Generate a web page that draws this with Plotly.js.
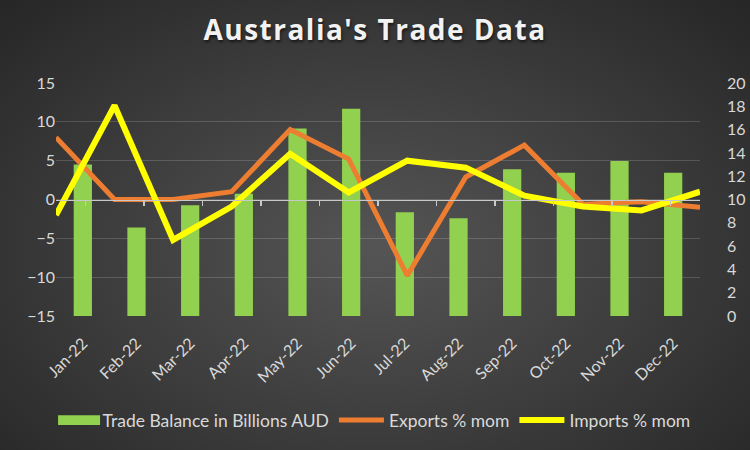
<!DOCTYPE html>
<html>
<head>
<meta charset="utf-8">
<script src="https://cdn.plot.ly/plotly-3.0.1.min.js"></script>
<style>
html,body{margin:0;padding:0;}
#chart{width:750px;height:450px;background:radial-gradient(ellipse at 50% 55%, #555555 0%, #404040 45%, #262626 100%);}
#chart .gtitle{letter-spacing:1.5px;}
</style>
</head>
<body>
<div id="chart"></div>
<script>
const months = ["Jan-22","Feb-22","Mar-22","Apr-22","May-22","Jun-22","Jul-22","Aug-22","Sep-22","Oct-22","Nov-22","Dec-22"];
const tradeBalance = [13.0, 7.6, 9.5, 10.5, 16.1, 17.8, 8.9, 8.4, 12.6, 12.3, 13.3, 12.3];
const exportsMom = [8.0, 0.0, 0.0, 1.0, 9.0, 5.2, -9.8, 2.9, 7.0, -0.6, -0.3, -1.0];
const importsMom = [-2.0, 12.1, -5.2, -0.9, 5.9, 0.9, 5.0, 4.1, 0.5, -0.9, -1.4, 1.0];
const leftTicks = [-15, -10, -5, 0, 5, 10, 15];
const rightTicks = [0, 2, 4, 6, 8, 10, 12, 14, 16, 18, 20];

const fontFam = "Lato, 'Open Sans', sans-serif";
const txt = "#d9d9d9";

const traces = [
  {type:"bar", name:"Trade Balance in Billions AUD", x:months, y:tradeBalance,
   xaxis:"x", yaxis:"y", marker:{color:"#92d050"}},
  {type:"scatter", mode:"lines", name:"Exports % mom", x:months, y:exportsMom,
   xaxis:"x2", yaxis:"y2", line:{color:"#ed7d31", width:5}},
  {type:"scatter", mode:"lines", name:"Imports % mom", x:months, y:importsMom,
   xaxis:"x2", yaxis:"y2", line:{color:"#ffff00", width:6}}
];

const layout = {
  width:750, height:450,
  paper_bgcolor:"rgba(0,0,0,0)", plot_bgcolor:"rgba(0,0,0,0)",
  margin:{l:56, r:50, t:83, b:130},
  font:{family:fontFam, color:txt, size:16},
  title:{text:"<b>Australia's Trade Data</b>", x:0.5, xanchor:"center", y:0.955, yanchor:"top",
         font:{family:"'Open Sans', Lato, sans-serif", size:28, color:"#f2f2f2",
               shadow:"1px 2px 3px rgba(0,0,0,0.6)"}},
  bargap:0.66,
  showlegend:true,
  legend:{orientation:"h", x:0.49, xanchor:"center", y:-0.37, yanchor:"top",
          font:{family:fontFam, size:17.5, color:txt}, itemwidth:45, traceorder:"normal"},
  xaxis:{type:"category", categoryarray:months, showgrid:false, showline:false, zeroline:false,
         tickangle:-45, ticks:"", tickfont:{size:16, color:txt}, ticklabelstandoff:14, domain:[0,1]},
  xaxis2:{type:"category", categoryarray:months, overlaying:"x", anchor:"free", position:0.5,
          side:"bottom", showgrid:false, showline:true, linecolor:"#c8c8c8", linewidth:1.5,
          ticks:"outside", tickson:"boundaries", ticklen:5, tickcolor:"#c8c8c8", tickwidth:1.5,
          showticklabels:false, zeroline:false},
  yaxis:{side:"right", range:[0,20], tickvals:rightTicks, showgrid:false, zeroline:false,
         showline:false, tickfont:{size:16, color:txt}, ticks:"", ticklabelstandoff:26},
  yaxis2:{side:"left", overlaying:"y", anchor:"x", range:[-15,15], tickvals:leftTicks,
          showgrid:true, gridcolor:"rgba(255,255,255,0.16)", gridwidth:1.2, zeroline:false,
          showline:false, tickfont:{size:16, color:txt}, ticks:""}
};

function widenBarLegend(gd){
  // widen the bar legend glyph into a flat rectangle like the reference legend
  var firstItem = gd.querySelector(".legend .traces");
  if (!firstItem) return;
  firstItem.querySelectorAll(".legendpoints path").forEach(function(p){
    if (p.getAttribute("data-wide")) return;
    var t = p.getAttribute("transform") || "";
    p.setAttribute("transform", t + " translate(4,0) scale(3.5,0.8)");
    p.setAttribute("data-wide", "1");
  });
}

const gdEl = document.getElementById("chart");
const pr = Plotly.newPlot(gdEl, traces, layout, {displayModeBar:false, staticPlot:true});
widenBarLegend(gdEl);
pr.then(function(gd){ widenBarLegend(gd); });
setTimeout(function(){ widenBarLegend(gdEl); }, 100);
</script>
</body>
</html>
